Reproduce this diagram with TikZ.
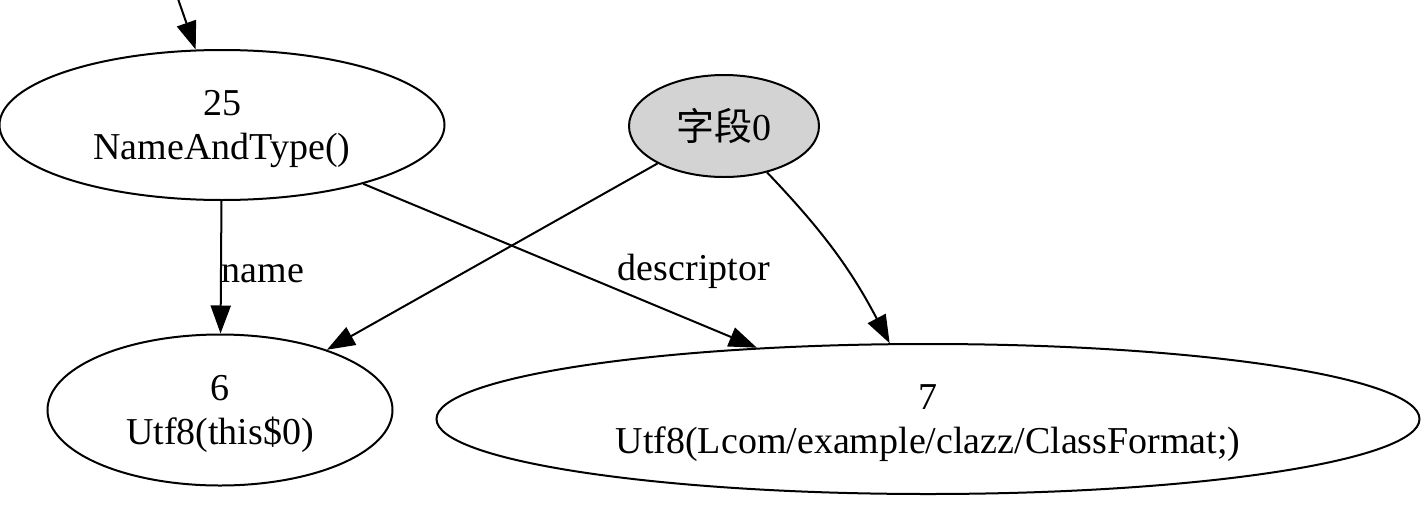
\documentclass[tikz,border=0pt]{standalone}
\usepackage{fontspec}
\setmainfont{Liberation Serif}
\newfontfamily\cjk{Noto Sans CJK SC}
\usetikzlibrary{shapes.geometric,arrows.meta}
\definecolor{fieldgray}{RGB}{211,211,211}

\begin{document}
\begin{tikzpicture}[x=0.5pt,y=-0.5pt,
        every node/.style={font=\fontsize{19}{22}\selectfont},
        entry/.style={draw,ellipse,line width=1pt,inner sep=0pt,align=center},
        ref/.style={-{Triangle[length=14pt,width=10pt]},line width=1pt},
        lbl/.style={inner sep=0pt}]
        \useasboundingbox (0,0) rectangle (1428,504);

        \node[entry,minimum width=222.5pt,minimum height=75pt] (n25) at (222,125) {\rule{0pt}{17pt}25\\NameAndType()};
        \node[entry,fill=fieldgray,minimum width=95pt,minimum height=51pt] (field0) at (724,126) {{\cjk 字段}0};
        \node[entry,minimum width=172.5pt,minimum height=75.5pt] (n6) at (220,410) {\rule{0pt}{17pt}6\\Utf8(this\$0)};
        \node[entry,minimum width=491.5pt,minimum height=75pt] (n7) at (928,419) {\rule{0pt}{17pt}7\\Utf8(Lcom/example/clazz/ClassFormat;)};

        \coordinate (in25) at (177,-4);

        \draw[ref] (in25) -- (n25);
        \draw[ref] (n25) -- node[lbl,right,pos=0.55] {name} (n6);
        \draw[ref] (n25) -- node[lbl,pos=0.84,yshift=25pt] {descriptor} (n7);
        \draw[ref] (field0) -- (n6);
        \draw[ref] (field0) to[bend left=8] (n7);
    \end{tikzpicture}
\end{document}
